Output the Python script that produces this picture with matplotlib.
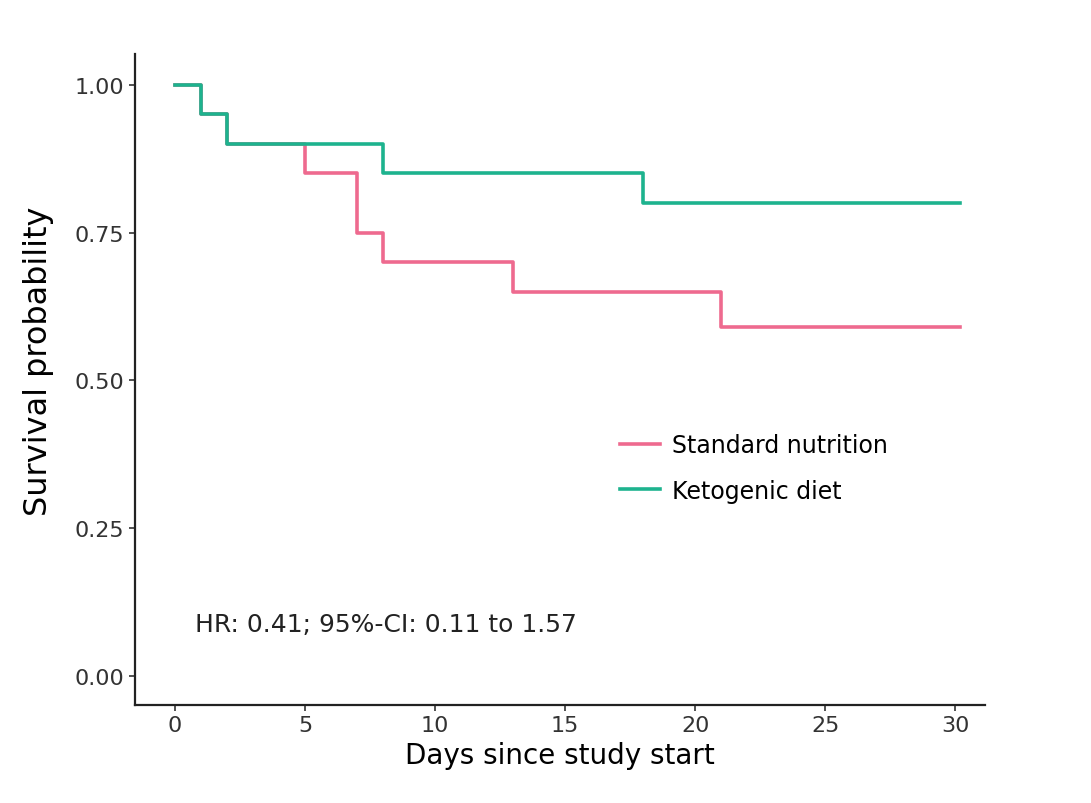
import matplotlib.pyplot as plt
from matplotlib.lines import Line2D

# Kaplan-Meier step data (time, survival)
std_time = [0, 1, 2, 5, 7, 8, 13, 21, 30.2]
std_surv = [1.00, 0.95, 0.90, 0.85, 0.75, 0.70, 0.65, 0.59, 0.59]
keto_time = [0, 1, 2, 8, 18, 30.2]
keto_surv = [1.00, 0.95, 0.90, 0.85, 0.80, 0.80]

labels = ["Standard nutrition", "Ketogenic diet"]
colors = ["#EE6A8F", "#1DB38E"]
x_ticks = [0, 5, 10, 15, 20, 25, 30]
y_ticks = [0.00, 0.25, 0.50, 0.75, 1.00]

plt.rcParams['font.family'] = ['DejaVu Sans']

fig = plt.figure(figsize=(10.91, 8.04), dpi=100)
ax = fig.add_axes([0.1237, 0.1219, 0.903 - 0.1237, 0.9316 - 0.1219])

# standard first so the ketogenic curve sits on top where they overlap
ax.step(std_time, std_surv, where='post', color=colors[0], lw=2.6)
ax.step(keto_time, keto_surv, where='post', color=colors[1], lw=2.6)

ax.set_xlim(-1.54, 31.15)
ax.set_ylim(-0.049, 1.052)
ax.set_xticks(x_ticks)
ax.set_yticks(y_ticks)
ax.set_yticklabels([f"{v:.2f}" for v in y_ticks])
ax.tick_params(labelsize=16, colors='#333333', length=4, width=1.2)

ax.spines['top'].set_visible(False)
ax.spines['right'].set_visible(False)
for side in ['left', 'bottom']:
    ax.spines[side].set_linewidth(1.6)
    ax.spines[side].set_color('#222222')

ax.set_xlabel("Days since study start", fontsize=20, labelpad=4)
ax.set_ylabel("Survival probability", fontsize=23, labelpad=6)
ax.yaxis.set_label_coords(-0.095, 0.53)

handles = [Line2D([], [], color=c, lw=2.6) for c in colors]
ax.legend(handles, labels, loc='upper left', bbox_to_anchor=(0.545, 0.45),
          frameon=False, fontsize=17, handlelength=1.7, labelspacing=0.9,
          handletextpad=0.5)

ax.text(0.77, 0.088, "HR: 0.41; 95%-CI: 0.11 to 1.57", fontsize=18,
        va='center', ha='left', color='#222222')

fig.savefig("out.png", dpi=100)
